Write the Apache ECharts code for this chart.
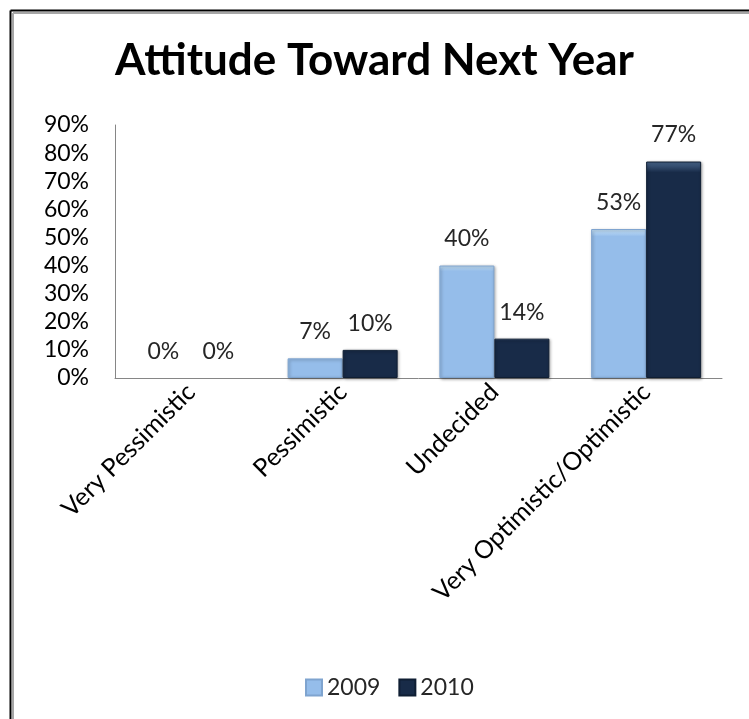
<!DOCTYPE html>
<html>
<head>
<meta charset="utf-8">
<script src="https://cdn.jsdelivr.net/npm/echarts@6/dist/echarts.min.js"></script>
<style>
html,body{margin:0;padding:0;background:#fff;}
#chart{width:749px;height:719px;}
</style>
</head>
<body>
<div id="chart"></div>
<script>
const titleText = 'Attitude Toward Next Year';
const categories = ['Very Pessimistic', 'Pessimistic', 'Undecided', 'Very Optimistic/Optimistic'];
const seriesNames = ['2009', '2010'];
const values2009 = [0, 7, 40, 53];
const values2010 = [0, 10, 14, 77];
const yTicks = [0, 10, 20, 30, 40, 50, 60, 70, 80, 90];

const FONT = 'Lato';
const chart = echarts.init(document.getElementById('chart'), null, {renderer: 'canvas'});

function barStyle(main, top, border) {
  return {
    color: {
      type: 'linear', x: 0, y: 0, x2: 0, y2: 1,
      colorStops: [
        {offset: 0, color: top},
        {offset: 0.05, color: main},
        {offset: 1, color: main}
      ]
    },
    borderColor: border,
    borderWidth: 1,
    shadowColor: 'rgba(0,0,0,0.35)',
    shadowBlur: 3,
    shadowOffsetX: 1,
    shadowOffsetY: 1
  };
}

function toItems(vals) {
  return vals.map(v => v === 0
    ? {value: v, itemStyle: {color: 'rgba(0,0,0,0)', borderWidth: 0, shadowBlur: 0, shadowOffsetX: 0, shadowOffsetY: 0, shadowColor: 'rgba(0,0,0,0)'}}
    : v);
}

const labelCfg = {
  show: true,
  position: 'top',
  distance: 15,
  formatter: p => p.value + '%',
  fontFamily: FONT,
  fontSize: 23,
  color: '#262626'
};

const option = {
  backgroundColor: '#fff',
  animation: false,
  title: {
    text: titleText,
    left: 'center',
    top: 34,
    textStyle: {fontFamily: FONT, fontWeight: 'bold', fontSize: 44, color: '#000'}
  },
  legend: {
    data: seriesNames,
    top: 671,
    left: 300,
    itemWidth: 16,
    itemHeight: 16,
    itemGap: 18,
    icon: 'rect',
    textStyle: {fontFamily: FONT, fontSize: 23, color: '#262626'}
  },
  grid: {left: 115, right: 27, top: 125, bottom: 341, containLabel: false},
  xAxis: {
    type: 'category',
    data: categories,
    axisLine: {lineStyle: {color: '#868686', width: 1}},
    axisTick: {show: false},
    axisLabel: {rotate: 45, fontFamily: FONT, fontSize: 25, color: '#000', margin: 10, interval: 0}
  },
  yAxis: {
    type: 'value',
    min: 0, max: 90, interval: 10,
    axisLine: {show: true, lineStyle: {color: '#868686', width: 1}},
    axisTick: {show: false},
    splitLine: {show: false},
    axisLabel: {formatter: v => v + '%', fontFamily: FONT, fontSize: 23, color: '#000', margin: 26}
  },
  series: [
    {
      name: seriesNames[0], type: 'bar', data: toItems(values2009),
      barWidth: 55, barGap: '0%',
      itemStyle: barStyle('#95BDEA', '#C9E6FB', '#7FA4CF'),
      label: labelCfg
    },
    {
      name: seriesNames[1], type: 'bar', data: toItems(values2010),
      barWidth: 55, barGap: '0%',
      itemStyle: barStyle('#182B48', '#4C6A90', '#0F1E33'),
      label: labelCfg
    }
  ],
  graphic: [
    {type: 'line', shape: {x1: 10.5, y1: 10.5, x2: 749, y2: 10.5}, style: {stroke: '#000', lineWidth: 2}},
    {type: 'line', shape: {x1: 10.5, y1: 10.5, x2: 10.5, y2: 719}, style: {stroke: '#000', lineWidth: 2}},
    {type: 'line', shape: {x1: 13, y1: 13, x2: 749, y2: 13}, style: {stroke: '#A6A6A6', lineWidth: 2}},
    {type: 'line', shape: {x1: 13, y1: 13, x2: 13, y2: 719}, style: {stroke: '#A6A6A6', lineWidth: 2}}
  ]
};
chart.setOption(option);
</script>
</body>
</html>
